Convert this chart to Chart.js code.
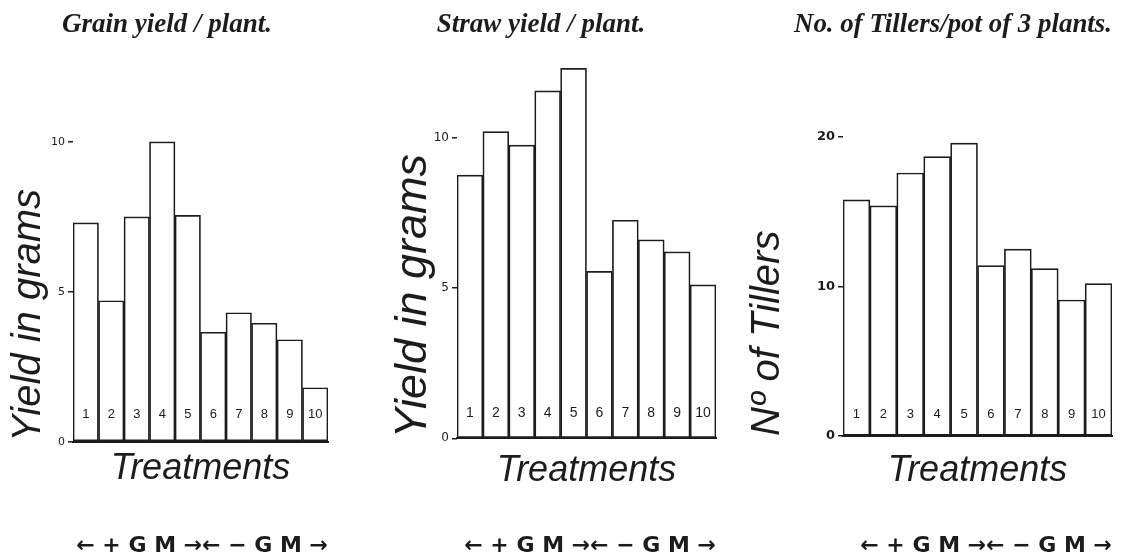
<!DOCTYPE html>
<html>
<head>
<meta charset="utf-8">
<script src="https://cdn.jsdelivr.net/npm/chart.js@4.4.0/dist/chart.umd.min.js"></script>
<style>
    html, body { margin: 0; padding: 0; background: #fff; overflow: hidden; }
    body { width: 1125px; height: 560px; position: relative; }
    .panel { position: absolute; top: 0; }
</style>
</head>
<body>
<div class="panel" style="left:0px"><canvas id="grainChart" width="334" height="560"></canvas></div>
<div class="panel" style="left:360px"><canvas id="strawChart" width="362" height="560"></canvas></div>
<div class="panel" style="left:740px"><canvas id="tillerChart" width="426" height="560"></canvas></div>
<script>
// Treatments 1-5 with green manure (+GM), 6-10 without (-GM)
const treatments = ['1', '2', '3', '4', '5', '6', '7', '8', '9', '10'];
const grainYield = [7.3, 4.7, 7.5, 10.0, 7.55, 3.65, 4.3, 3.95, 3.4, 1.8];
const strawYield = [8.75, 10.2, 9.75, 11.55, 12.3, 5.55, 7.25, 6.6, 6.2, 5.1];
const tillerCount = [15.8, 15.4, 17.6, 18.7, 19.6, 11.4, 12.5, 11.2, 9.1, 10.2];

const handFont = "'Liberation Sans', 'DejaVu Sans', sans-serif";
const printFont = "'Liberation Serif', 'DejaVu Serif', serif";
const ink = '#1c1c1c';

// Writes the treatment number inside the foot of each bar
const barNumbers = {
    id: 'barNumbers',
    afterDatasetsDraw(chart, args, opts) {
        const ctx = chart.ctx;
        const yScale = chart.scales.y;
        ctx.save();
        ctx.font = opts.size + 'px ' + handFont;
        ctx.fillStyle = ink;
        ctx.textAlign = 'center';
        ctx.textBaseline = 'middle';
        chart.getDatasetMeta(0).data.forEach((bar, i) => {
            ctx.fillText(chart.data.labels[i], bar.x, yScale.getPixelForValue(0) - opts.lift);
        });
        ctx.restore();
    }
};

function makeBarChart(canvasId, values, p) {
    const ctx = document.getElementById(canvasId).getContext('2d');
    return new Chart(ctx, {
        type: 'bar',
        data: {
            labels: treatments,
            datasets: [{
                data: values,
                backgroundColor: '#ffffff',
                borderColor: ink,
                borderWidth: 1.7,
                borderSkipped: false,
                categoryPercentage: 1,
                barPercentage: 1
            }]
        },
        options: {
            responsive: false,
            animation: false,
            layout: { padding: { left: p.padLeft, right: p.padRight, top: 0, bottom: 0 } },
            plugins: {
                legend: { display: false },
                tooltip: { enabled: false },
                title: {
                    display: true,
                    text: p.title,
                    color: ink,
                    font: { family: printFont, size: 27, style: 'italic', weight: 'bold' },
                    padding: { top: 9, bottom: p.titleGap }
                },
                subtitle: {
                    display: true,
                    position: 'bottom',
                    align: 'end',
                    text: p.footer,
                    color: ink,
                    font: { family: "'DejaVu Sans', sans-serif", size: 22, weight: 'bold' },
                    padding: { top: 20, bottom: 1 }
                },
                barNumbers: { size: p.numberSize, lift: p.numberLift }
            },
            scales: {
                x: {
                    grid: { display: true, drawOnChartArea: false, drawTicks: false },
                    border: { display: true, color: ink, width: 2 },
                    ticks: { display: false },
                    title: {
                        display: true,
                        text: 'Treatments',
                        color: ink,
                        font: { family: handFont, size: 36, style: 'italic' },
                        padding: { top: 0, bottom: p.xTitlePad }
                    },
                    afterFit(scale) { scale.height = p.xAxisHeight; }
                },
                y: {
                    min: 0,
                    max: p.yMax,
                    grid: { display: true, drawOnChartArea: false, drawTicks: true, tickLength: 5, color: ink, lineWidth: 1.5 },
                    border: { display: false },
                    ticks: {
                        stepSize: p.yStep,
                        includeBounds: false,
                        padding: 3,
                        color: ink,
                        font: { family: "'DejaVu Sans', sans-serif", size: p.tickSize, weight: p.tickWeight }
                    },
                    title: {
                        display: true,
                        align: 'start',
                        text: p.yTitle,
                        color: ink,
                        font: { family: handFont, size: p.yTitleSize, style: 'italic' },
                        padding: { top: p.yTitlePad, bottom: 0 }
                    },
                    afterFit(scale) { scale.width = p.yAxisWidth; }
                }
            }
        },
        plugins: [barNumbers]
    });
}

makeBarChart('grainChart', grainYield, {
    title: 'Grain yield / plant.',
    footer: '\u2190 + G M \u2192\u2190 \u2212 G M \u2192',
    yTitle: 'Yield in grams',
    yTitleSize: 40, yTitlePad: -1,
    yMax: 11, yStep: 5, tickSize: 11, tickWeight: 'normal',
    padLeft: 6, padRight: 6, yAxisWidth: 67,
    titleGap: 70.4, xAxisHeight: 70.9, xTitlePad: 22,
    numberSize: 13, numberLift: 27.7
});

makeBarChart('strawChart', strawYield, {
    title: 'Straw yield / plant.',
    footer: '\u2190 + G M \u2192\u2190 \u2212 G M \u2192',
    yTitle: 'Yield in grams',
    yTitleSize: 45, yTitlePad: 20,
    yMax: 13, yStep: 5, tickSize: 12, tickWeight: 'normal',
    padLeft: 6, padRight: 6, yAxisWidth: 91,
    titleGap: 5.9, xAxisHeight: 74.3, xTitlePad: 20,
    numberSize: 14, numberLift: 25.6
});

makeBarChart('tillerChart', tillerCount, {
    title: 'No. of Tillers/pot of 3 plants.',
    footer: '\u2190 + G M \u2192\u2190 \u2212 G M \u2192',
    yTitle: 'N\u00BA of Tillers',
    yTitleSize: 40, yTitlePad: -50,
    yMax: 22, yStep: 10, tickSize: 13, tickWeight: 'bold',
    padLeft: 54, padRight: 54, yAxisWidth: 49,
    titleGap: 65.8, xAxisHeight: 76.6, xTitlePad: 20,
    numberSize: 13, numberLift: 22
});
</script>
</body>
</html>
